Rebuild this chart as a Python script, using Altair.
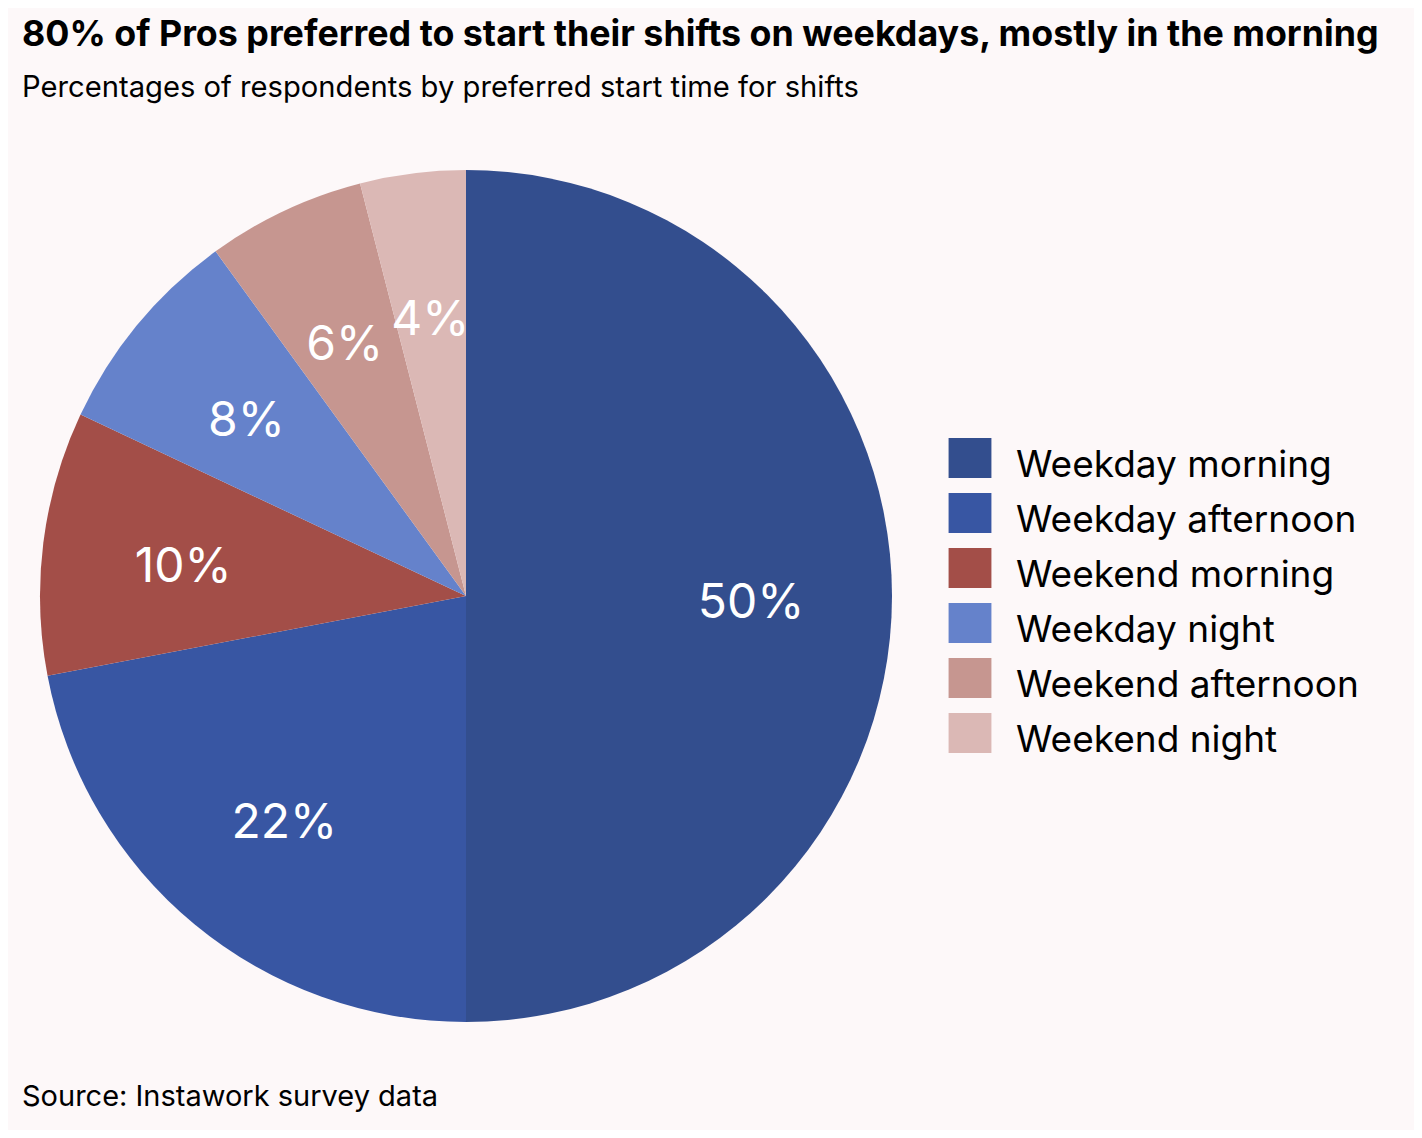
import altair as alt
import pandas as pd

categories = ["Weekday morning", "Weekday afternoon", "Weekend morning",
              "Weekday night", "Weekend afternoon", "Weekend night"]
values = [50, 22, 10, 8, 6, 4]
labels = ["50%", "22%", "10%", "8%", "6%", "4%"]
colors = ["#334e8e", "#3856a3", "#a34e48", "#6582cb", "#c69690", "#dbb8b5"]

df = pd.DataFrame({"cat": categories, "value": values, "label": labels,
                   "order": list(range(len(categories)))})

FONT = "Inter"
CX, CY, R = 458, 488, 426

base = alt.Chart(df).encode(
    theta=alt.Theta("value:Q", stack=True),
    order=alt.Order("order:Q"),
)

arcs = base.mark_arc(outerRadius=R, stroke=None).encode(
    x=alt.value(CX), y=alt.value(CY),
    color=alt.Color("cat:N", sort=categories,
                    scale=alt.Scale(domain=categories, range=colors),
                    legend=alt.Legend(title=None, orient="none", legendX=941, legendY=337,
                                      symbolType="M-1.02,-1.33H1.02V0.57H-1.02Z",
                                      symbolSize=1764,
                                      symbolStrokeWidth=0, symbolOpacity=1,
                                      labelFont=FONT, labelFontSize=37, labelColor="#000000",
                                      labelOffset=25, rowPadding=9, padding=0,
                                      labelLimit=600)),
)

texts = base.mark_text(radius=285, fontSize=48, font=FONT, color="white",
                       align="center", baseline="middle", dy=8).encode(
    x=alt.value(CX), y=alt.value(CY),
    text="label:N",
)

source = alt.Chart(pd.DataFrame({"t": ["Source: Instawork survey data"]})).mark_text(
    align="left", baseline="middle", font=FONT, fontSize=29, color="#000000"
).encode(x=alt.value(14), y=alt.value(989), text="t:N")

chart = alt.layer(arcs, texts, source).properties(
    width=1406, height=1022,
    autosize=alt.AutoSizeParams(type="none"),
    padding={"top": 100, "left": 0, "right": 0, "bottom": 0},
    background="#fdf8f9",
    title=alt.TitleParams(
        text="80% of Pros preferred to start their shifts on weekdays, mostly in the morning",
        subtitle="Percentages of respondents by preferred start time for shifts",
        anchor="start", frame="group", dx=14, offset=4,
        font=FONT, fontSize=35.8, fontWeight="bold", color="#000000",
        subtitleFont=FONT, subtitleFontSize=29.2, subtitleColor="#000000",
        subtitlePadding=20,
    ),
).configure_view(stroke=None)

chart.save("out.html", embed_options={"renderer": "svg", "actions": False})
